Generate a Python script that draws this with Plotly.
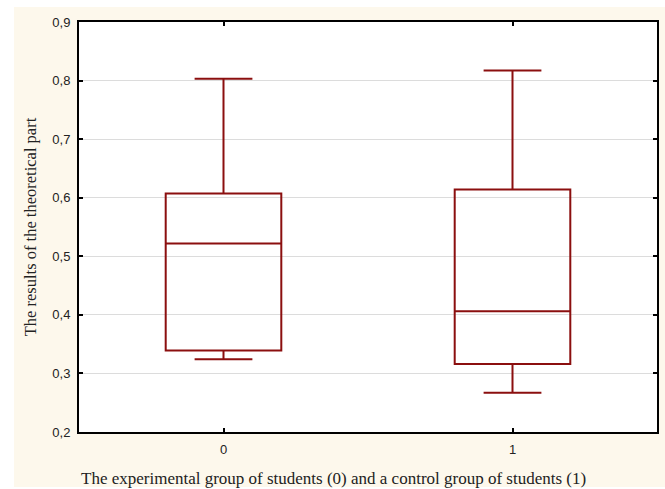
import plotly.graph_objects as go

groups = [0, 1]
upper_whisker = [0.803, 0.817]
q3 = [0.607, 0.614]
median = [0.522, 0.406]
q1 = [0.339, 0.316]
lower_whisker = [0.324, 0.267]
y_ticks = [0.2, 0.3, 0.4, 0.5, 0.6, 0.7, 0.8, 0.9]

color = "#8b0f0f"
fig = go.Figure()
for i, g in enumerate(groups):
    fig.add_trace(go.Box(
        x=[g], q1=[q1[i]], median=[median[i]], q3=[q3[i]],
        lowerfence=[lower_whisker[i]], upperfence=[upper_whisker[i]],
        width=0.4, whiskerwidth=0.5, fillcolor="rgba(0,0,0,0)",
        line=dict(color=color, width=2), showlegend=False, hoverinfo="skip",
    ))

fig.add_shape(type="rect", xref="paper", yref="paper",
              x0=-65/578, x1=1+8/578, y0=-55/410, y1=1+15/410,
              fillcolor="#fdf8ec", line_width=0, layer="below")
fig.add_shape(type="rect", xref="paper", yref="paper",
              x0=0, x1=1, y0=0, y1=1,
              fillcolor="white", line_width=0, layer="below")

fig.update_layout(
    width=665, height=489,
    margin=dict(l=79, r=8, t=22, b=57, autoexpand=False),
    paper_bgcolor="white", plot_bgcolor="rgba(0,0,0,0)",
    separators=",.",
    font=dict(family="Liberation Sans, Arial", size=13, color="#222"),
    xaxis=dict(range=[-0.5, 1.5], tickvals=groups, ticktext=[str(g) for g in groups],
               showline=True, linecolor="black", linewidth=2, mirror="ticks",
               ticks="inside", ticklen=4, tickcolor="black", tickwidth=2,
               showgrid=False, zeroline=False, ticklabelstandoff=4, automargin=False),
    yaxis=dict(range=[0.2, 0.9], tickvals=y_ticks, tickformat=".1f",
               showline=True, linecolor="black", linewidth=2, mirror="ticks",
               ticks="inside", ticklen=4, tickcolor="black", tickwidth=2,
               showgrid=True, gridcolor="#dcdcdc", gridwidth=1, zeroline=False,
               ticklabelstandoff=4, automargin=False,
               title=dict(text="The results of the theoretical part",
                          font=dict(family="Liberation Serif, Times New Roman", size=16.5, color="#222"),
                          standoff=12)),
)
fig.add_annotation(xref="paper", yref="paper", x=0, y=-46/410, xanchor="left", yanchor="middle",
                   text="The experimental group of students (0) and a control group of students (1)",
                   showarrow=False,
                   font=dict(family="Liberation Serif, Times New Roman", size=17, color="#222"))

fig.write_html("out.html", config={"displayModeBar": False},
               post_script="document.body.style.margin='0';")
